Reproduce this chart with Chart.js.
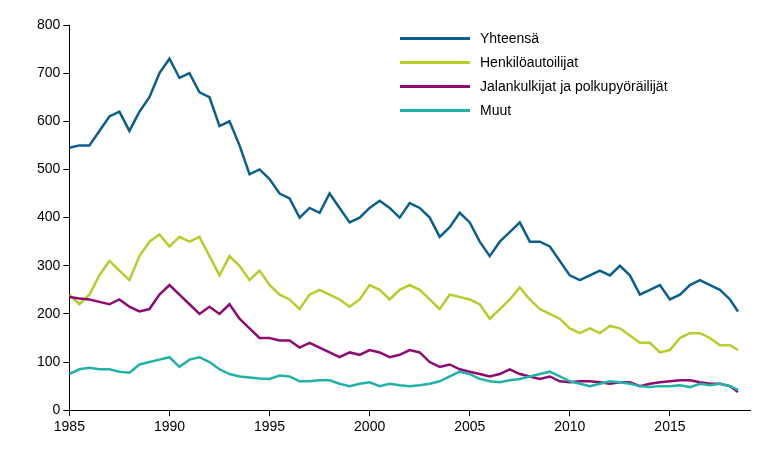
<!DOCTYPE html>
<html><head><meta charset="utf-8">
<script src="https://cdn.jsdelivr.net/npm/chart.js@4"></script>
<style>
body{margin:0;background:#fff;font-family:Arial,"Liberation Sans",sans-serif}
#wrap{position:relative;width:765px;height:471px}
#legend{position:absolute;left:400px;top:26px;font-size:14px;color:#000;line-height:24px}
#legend div{display:flex;align-items:center}
#legend span.l{display:inline-block;width:70px;height:3px;margin-right:10px}
</style></head><body>
<div id="wrap"><canvas id="c" width="765" height="471"></canvas>
<div id="legend"></div></div>
<script>
const years = [1985,1985.5,1986,1986.5,1987,1987.5,1988,1988.5,1989,1989.5,1990,1990.5,1991,1991.5,1992,1992.5,1993,1993.5,1994,1994.5,1995,1995.5,1996,1996.5,1997,1997.5,1998,1998.5,1999,1999.5,2000,2000.5,2001,2001.5,2002,2002.5,2003,2003.5,2004,2004.5,2005,2005.5,2006,2006.5,2007,2007.5,2008,2008.5,2009,2009.5,2010,2010.5,2011,2011.5,2012,2012.5,2013,2013.5,2014,2014.5,2015,2015.5,2016,2016.5,2017,2017.5,2018,2018.4];
const yhteensa = [545,550,550,580,610,620,580,620,650,700,730,690,700,660,650,590,600,550,490,500,480,450,440,400,420,410,450,420,390,400,420,435,420,400,430,420,400,360,380,410,390,350,320,350,370,390,350,350,340,310,280,270,280,290,280,300,280,240,250,260,230,240,260,270,260,250,230,205];
const henkiloauto = [240,220,240,280,310,290,270,320,350,365,340,360,350,360,320,280,320,300,270,290,260,240,230,210,240,250,240,230,215,230,260,250,230,250,260,250,230,210,240,235,230,220,190,210,230,255,230,210,200,190,170,160,170,160,175,170,155,140,140,120,125,150,160,160,150,135,135,125];
const jalankulku = [235,232,230,225,220,230,215,205,210,240,260,240,220,200,215,200,220,190,170,150,150,145,145,130,140,130,120,110,120,115,125,120,110,115,125,120,100,90,95,85,80,75,70,75,85,75,70,65,70,60,58,60,60,58,55,58,58,50,55,58,60,62,62,58,55,55,50,38];
const muut = [75,85,88,85,85,80,78,95,100,105,110,90,105,110,100,85,75,70,68,66,65,72,70,60,60,62,62,55,50,55,58,50,55,52,50,52,55,60,70,80,75,65,60,58,62,65,70,75,80,70,60,55,50,55,60,58,55,50,48,50,50,52,48,55,52,55,50,42];
const names = ['Yhteensä','Henkilöautoilijat','Jalankulkijat ja polkupyöräilijät','Muut'];
const colors = ['#0b5f8c','#b2cf2b','#8e0b6f','#22b2a8'];
const series = [yhteensa, henkiloauto, jalankulku, muut];

const datasets = series.map((s, i) => ({
  label: names[i],
  data: s.map((v, j) => ({x: years[j], y: v})),
  borderColor: colors[i], borderWidth: 2.5, pointRadius: 0, tension: 0
})).reverse();

new Chart(document.getElementById('c'), {
  type: 'line',
  data: {datasets},
  options: {
    responsive: false, animation: false,
    layout: {padding: {left: 34, right: 15, top: 25, bottom: 32}},
    plugins: {legend: {display: false}, tooltip: {enabled: false}},
    scales: {
      x: {type: 'linear', min: 1985, max: 2019,
        afterBuildTicks: a => { a.ticks = [1985,1990,1995,2000,2005,2010,2015].map(v => ({value: v})); },
        ticks: {color: '#000', font: {size: 14}, callback: v => String(v), maxRotation: 0},
        grid: {drawOnChartArea: false, color: '#000', tickLength: 6},
        border: {color: '#000'}},
      y: {min: 0, max: 800,
        ticks: {stepSize: 100, color: '#000', font: {size: 14}},
        grid: {drawOnChartArea: false, color: '#000', tickLength: 6},
        border: {color: '#000'}}
    }
  }
});

document.getElementById('legend').innerHTML = names.map((n, i) =>
  `<div><span class="l" style="background:${colors[i]}"></span>${n}</div>`).join('');
</script></body></html>
